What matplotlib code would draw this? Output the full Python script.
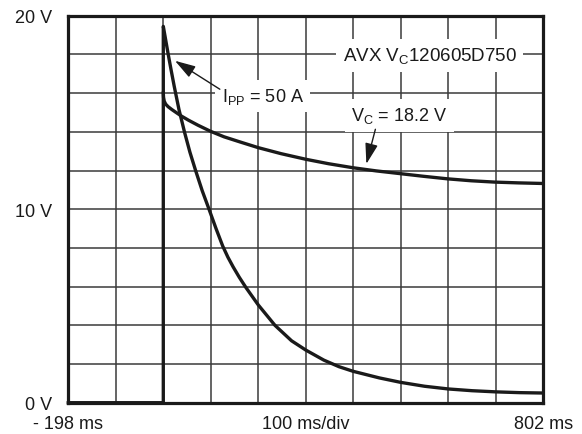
import matplotlib
matplotlib.use("Agg")
import matplotlib.pyplot as plt

plt.rcParams['font.family'] = ['Liberation Sans', 'DejaVu Sans']
plt.rcParams['mathtext.fontset'] = 'custom'
plt.rcParams['mathtext.rm'] = 'Liberation Sans'
plt.rcParams['mathtext.it'] = 'Liberation Sans'
plt.rcParams['mathtext.bf'] = 'Liberation Sans'

# ---- data (time in ms, voltage in V) ----
t_ipp = [-198, 2, 2, 7, 12, 18, 25, 35, 47, 58, 70, 84, 99, 113, 127, 138, 149, 162, 176, 202,
         237, 272, 302, 340, 372, 402, 457, 502, 552, 602, 652, 702, 752, 802]
v_ipp = [0, 0, 19.45, 18.75, 18.05, 17.25, 16.35, 15.15, 13.95, 12.95, 12.0, 10.95, 9.95,
         9.0, 8.1, 7.52, 7.02, 6.48, 5.95, 5.05, 4.0, 3.2, 2.72, 2.2, 1.86, 1.62, 1.28, 1.05,
         0.85, 0.71, 0.62, 0.56, 0.52, 0.5]

t_vc = [2, 2.5, 4, 7, 12, 20, 30, 41, 55, 75, 102, 130, 163, 202, 250, 302, 350, 402,
        450, 500, 550, 600, 650, 700, 750, 800]
v_vc = [16.0, 15.78, 15.58, 15.43, 15.3, 15.15, 14.98, 14.8, 14.6, 14.34, 14.02, 13.74,
        13.48, 13.18, 12.87, 12.58, 12.35, 12.14, 11.98, 11.84, 11.7, 11.57, 11.47, 11.4,
        11.36, 11.33]

x_grid = [-198, -98, 2, 102, 202, 302, 402, 502, 602, 702, 802]
x_labels = ['- 198 ms', '', '', '', '', '100 ms/div', '', '', '', '', '802 ms']
y_grid = [0, 2, 4, 6, 8, 10, 12, 14, 16, 18, 20]
y_labels = ['0 V', '', '', '', '', '10 V', '', '', '', '', '20 V']

W, H = 582, 435
fig = plt.figure(figsize=(W / 100, H / 100), dpi=100)
ax = fig.add_axes([68.3 / W, 1 - 403.7 / H, 475 / W, 387 / H])

ax.set_xlim(-198, 802)
ax.set_ylim(0, 20)
ax.set_xticks(x_grid)
ax.set_xticklabels(x_labels)
ax.set_yticks(y_grid)
ax.set_yticklabels(y_labels)
ax.tick_params(length=0, labelsize=13, colors='#1a1a1a')
ax.tick_params(axis='y', pad=11.5)
ax.tick_params(axis='x', pad=9)
ax.grid(True, color='#3a3a3a', lw=1.1)
for s in ax.spines.values():
    s.set_linewidth(2.3)
    s.set_color('#1a1a1a')

lc = '#1a1a1a'
ax.plot(t_ipp, v_ipp, color=lc, lw=2.4, solid_joinstyle='round', clip_on=False, zorder=3)
ax.plot(t_vc, v_vc, color=lc, lw=2.4, solid_joinstyle='round', zorder=3)

box = dict(facecolor='white', edgecolor='none', boxstyle='square,pad=0.35')
ax.text(563, 17.95, r'AVX $\mathrm{V_C}$120605D750', fontsize=13.5, ha='center', va='center',
        color=lc, bbox=box, zorder=4)
ax.text(125, 15.85, r'$\mathrm{I_{PP}}$ = 50 A', fontsize=13, ha='left', va='center',
        color=lc, bbox=box, zorder=4)
ax.text(499, 14.85, r'$\mathrm{V_C}$ = 18.2 V', fontsize=13, ha='center', va='center',
        color=lc, bbox=box, zorder=4)

arrow = dict(arrowstyle='-|>,head_length=0.42,head_width=0.13', mutation_scale=30,
             lw=1.0, color=lc, shrinkA=0, shrinkB=0)
ax.annotate('', xy=(26.6, 17.67), xytext=(121, 16.2), arrowprops=arrow, zorder=5)
ax.annotate('', xy=(429.5, 12.34), xytext=(448.5, 14.13), arrowprops=arrow, zorder=5)

fig.savefig('out.png', dpi=100)
